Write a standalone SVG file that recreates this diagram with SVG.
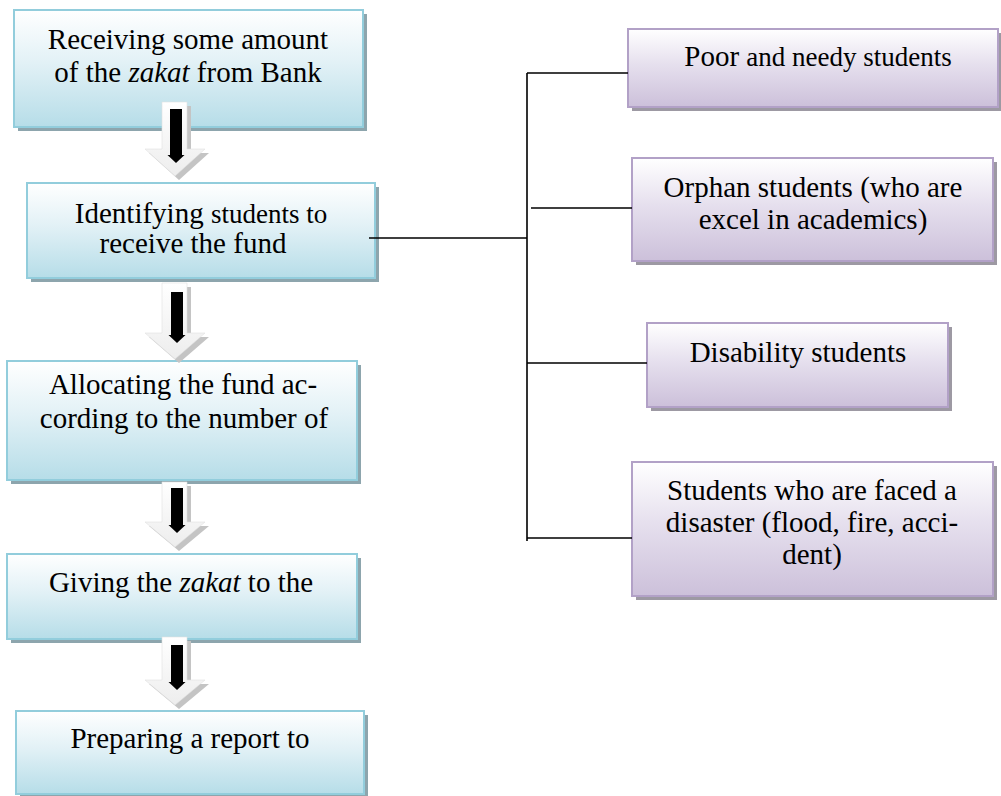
<svg xmlns="http://www.w3.org/2000/svg" width="1001" height="796" viewBox="0 0 1001 796">
<defs>
<linearGradient id="gBlue" x1="0" y1="0" x2="0" y2="1">
<stop offset="0" stop-color="#ffffff"/>
<stop offset="0.45" stop-color="#e2f1f6"/>
<stop offset="1" stop-color="#b6dde8"/>
</linearGradient>
<linearGradient id="gPurple" x1="0" y1="0" x2="0" y2="1">
<stop offset="0" stop-color="#ffffff"/>
<stop offset="0.45" stop-color="#e6e0ee"/>
<stop offset="1" stop-color="#ccc0da"/>
</linearGradient>
<linearGradient id="gArrow" x1="0" y1="0" x2="0" y2="1">
<stop offset="0" stop-color="#ffffff"/>
<stop offset="1" stop-color="#ededed"/>
</linearGradient>
<style>
.bs{fill:#8da5ad}
.bb{fill:url(#gBlue);stroke:#92cddc;stroke-width:2}
.ps{fill:#9d99a3}
.pb{fill:url(#gPurple);stroke:#b2a1c7;stroke-width:2}
text{font-family:"Liberation Serif","Times New Roman",serif;font-size:29px;fill:#000;text-anchor:middle}
.sm{font-size:27px}
.ln{stroke:#000;stroke-width:1.6;fill:none}
.as{fill:#c4c4c4}
.am{fill:url(#gArrow);stroke:#e0e0e0;stroke-width:0.6}
.ab{fill:#000}
</style>
</defs>
<rect width="1001" height="796" fill="#ffffff"/>

<g id="n1">
<rect class="bs" x="18" y="14" width="349" height="117"/>
<rect class="bb" x="14" y="10" width="349" height="117"/>
<text x="188" y="49">Receiving some amount</text>
<text x="188" y="82">of the <tspan font-style="italic">zakat</tspan> from Bank</text>
</g>

<g id="n2">
<rect class="bs" x="31" y="187" width="348" height="95"/>
<rect class="bb" x="27" y="183" width="348" height="95"/>
<text x="201" y="223">Identifying <tspan class="sm">students to</tspan></text>
<text x="193" y="253">receive the fund</text>
</g>

<g id="n3">
<rect class="bs" x="11" y="365" width="350" height="119"/>
<rect class="bb" x="7" y="361" width="350" height="119"/>
<text x="183" y="394">Allocating the fund ac-</text>
<text x="184" y="428">cording to the number of</text>
</g>

<g id="n4">
<rect class="bs" x="11" y="558" width="350" height="85"/>
<rect class="bb" x="7" y="554" width="350" height="85"/>
<text x="181" y="592">Giving the <tspan font-style="italic">zakat</tspan> to the</text>
</g>

<g id="n5">
<rect class="bs" x="20" y="715" width="348" height="84"/>
<rect class="bb" x="16" y="711" width="348" height="83"/>
<text x="190" y="748">Preparing a report to</text>
</g>

<g id="p1">
<rect class="ps" x="632" y="33" width="370" height="78"/>
<rect class="pb" x="628" y="29" width="370" height="78"/>
<text x="818" y="66">Poor <tspan class="sm">and needy students</tspan></text>
</g>

<g id="p2">
<rect class="ps" x="636" y="162" width="361" height="103"/>
<rect class="pb" x="632" y="158" width="361" height="103"/>
<text x="813" y="197">Orphan students (who are</text>
<text x="813" y="229">excel in academics)</text>
</g>

<g id="p3">
<rect class="ps" x="651" y="327" width="301" height="84"/>
<rect class="pb" x="647" y="323" width="301" height="84"/>
<text x="798" y="362">Disability students</text>
</g>

<g id="p4">
<rect class="ps" x="636" y="466" width="361" height="134"/>
<rect class="pb" x="632" y="462" width="361" height="134"/>
<text x="812" y="500">Students who are faced a</text>
<text x="812" y="532">disaster (flood, fire, acci-</text>
<text x="812" y="564">dent)</text>
</g>

<g id="connectors">
<path class="ln" d="M527 73V541M527 73H628M531 208H632M369 238H527M527 363H647M527 538H632"/>

<g id="a1">
<polygon class="as" points="166,106 191,106 191,153 209,153 179,180 149,153 166,153"/>
<polygon class="am" points="162,102 187,102 187,149 205,149 175,176 145,149 162,149"/>
<polygon class="ab" points="170,109 182,109 182,155 184.5,155 176,163 167.5,155 170,155"/>
</g>
<g id="a2">
<polygon class="as" points="166,287 191,287 191,337 209,337 179,363 149,337 166,337"/>
<polygon class="am" points="162,283 187,283 187,333 205,333 175,359 145,333 162,333"/>
<polygon class="ab" points="171,292 183,292 183,335 185.5,335 177,343 168.5,335 171,335"/>
</g>
<g id="a3">
<polygon class="as" points="166,486 191,486 191,526 209,526 179,551 149,526 166,526"/>
<polygon class="am" points="162,482 187,482 187,522 205,522 175,547 145,522 162,522"/>
<polygon class="ab" points="171,488 183,488 183,525 185.5,525 177,533 168.5,525 171,525"/>
</g>
<g id="a4">
<polygon class="as" points="166,641 191,641 191,684 209,684 179,709 149,684 166,684"/>
<polygon class="am" points="162,637 187,637 187,680 205,680 175,705 145,680 162,680"/>
<polygon class="ab" points="171,645 183,645 183,682 185.5,682 177,690 168.5,682 171,682"/>
</g>
</g>
</svg>
